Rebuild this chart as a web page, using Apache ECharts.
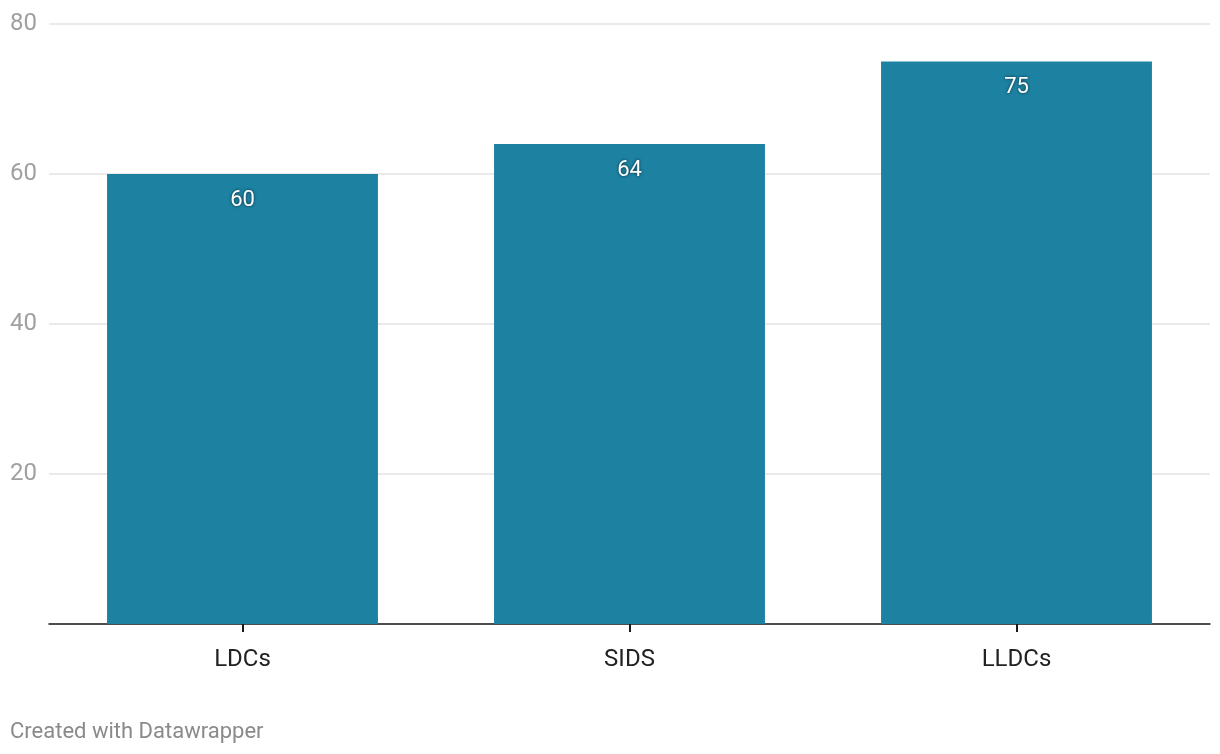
<!DOCTYPE html>
<html>
<head>
<meta charset="utf-8">
<script src="https://cdn.jsdelivr.net/npm/echarts@6/dist/echarts.min.js"></script>
<style>
html,body{margin:0;padding:0;background:#fff;}
#chart{width:1220px;height:754px;}
</style>
</head>
<body>
<div id="chart"></div>
<script>
const categories = ['LDCs', 'SIDS', 'LLDCs'];
const values = [60, 64, 75];
const yTicks = [0, 20, 40, 60, 80];

const chart = echarts.init(document.getElementById('chart'));
chart.setOption({
  animation: false,
  textStyle: { fontFamily: 'Roboto' },
  grid: { left: 49, right: 10, top: 24, bottom: 130, containLabel: false },
  xAxis: {
    type: 'category',
    data: categories,
    axisLine: { lineStyle: { color: '#1a1a1a', width: 1.5 } },
    axisTick: { show: true, alignWithLabel: true, length: 8, lineStyle: { color: '#1a1a1a', width: 2 } },
    axisLabel: { color: '#222', fontSize: 24, margin: 24, fontFamily: 'Roboto' }
  },
  graphic: [{
    type: 'text', left: 10, top: 721,
    style: { text: 'Created with Datawrapper', fill: '#8a8a8a', font: '22px Roboto' }
  }],
  yAxis: {
    type: 'value',
    min: yTicks[0], max: yTicks[yTicks.length - 1], interval: 20,
    axisLine: { show: false },
    axisTick: { show: false },
    splitLine: { lineStyle: { color: '#e3e3e3', width: 1.5 } },
    axisLabel: {
      color: '#a0a0a0', fontSize: 24, align: 'left', margin: 39, fontFamily: 'Roboto',
      formatter: v => v === 0 ? '' : String(v)
    }
  },
  series: [{
    type: 'bar',
    data: values,
    barWidth: '70%',
    itemStyle: { color: '#1d81a2' },
    label: {
      show: true, position: 'insideTop', distance: 15,
      color: '#fff', fontSize: 22, fontFamily: 'Roboto',
      textShadowColor: 'rgba(0,0,0,0.7)', textShadowBlur: 3
    }
  }]
});
</script>
</body>
</html>
